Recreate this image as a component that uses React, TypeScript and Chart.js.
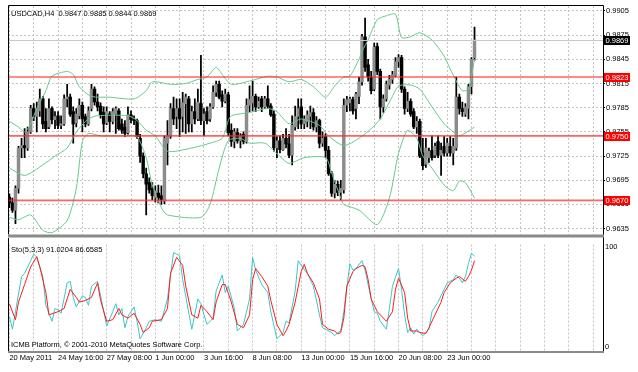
import React, { useEffect, useRef } from "react";
import { Chart, registerables } from "chart.js";

Chart.register(...registerables);

const symbolTitle = "USDCAD,H4  0.9847 0.9885 0.9844 0.9869";
const stochTitle = "Sto(5,3,3) 91.0204 86.6585";
const copyright = "ICMB Platform, \u00a9 2001-2010 MetaQuotes Software Corp.";

const timeLabels = ["20 May 2011", "24 May 16:00", "27 May 08:00", "1 Jun 00:00", "3 Jun 16:00", "8 Jun 08:00", "13 Jun 00:00", "15 Jun 16:00", "20 Jun 08:00", "23 Jun 00:00"];
const priceTicks = [0.9635, 0.9665, 0.9695, 0.9725, 0.9755, 0.9785, 0.9815, 0.9845, 0.9875, 0.9905];
const levels = [0.9823, 0.975, 0.967];
const bidPrice = 0.9869;
const stochTicks = [0, 100];

const openP = [0.9674,0.9667,0.9658,0.9685,0.9735,0.9738,0.9735,0.9755,0.9784,0.9774,
0.9781,0.9796,0.9768,0.9761,0.9784,0.9770,0.9775,0.9763,0.9765,0.9796,
0.9798,0.9780,0.9766,0.9775,0.9788,0.9774,0.9765,0.9784,0.9808,0.9792,
0.9787,0.9779,0.9766,0.9777,0.9768,0.9777,0.9781,0.9765,0.9761,0.9754,
0.9776,0.9771,0.9769,0.9747,0.9725,0.9703,0.9692,0.9685,0.9673,0.9679,
0.9676,0.9669,0.9741,0.9750,0.9784,0.9774,0.9784,0.9774,0.9790,0.9796,
0.9765,0.9780,0.9771,0.9790,0.9769,0.9780,0.9771,0.9786,0.9804,0.9814,
0.9801,0.9793,0.9801,0.9757,0.9743,0.9754,0.9744,0.9752,0.9744,0.9788,
0.9791,0.9799,0.9786,0.9796,0.9786,0.9796,0.9787,0.9777,0.9735,0.9744,
0.9733,0.9747,0.9740,0.9726,0.9761,0.9774,0.9786,0.9765,0.9768,0.9774,
0.9779,0.9761,0.9769,0.9741,0.9749,0.9732,0.9703,0.9679,0.9690,0.9680,
0.9683,0.9788,0.9791,0.9795,0.9784,0.9799,0.9817,0.9873,0.9838,0.9823,
0.9808,0.9861,0.9830,0.9786,0.9796,0.9813,0.9820,0.9825,0.9842,0.9847,
0.9808,0.9784,0.9793,0.9780,0.9761,0.9768,0.9729,0.9715,0.9723,0.9732,
0.9726,0.9743,0.9726,0.9737,0.9729,0.9737,0.9729,0.9735,0.9798,0.9784,
0.9777,0.9784,0.9811,0.9847];

const highP = [0.9678,0.9673,0.9688,0.9737,0.9747,0.9759,0.9761,0.9788,0.9790,0.9792,
0.9808,0.9799,0.9784,0.9796,0.9786,0.9780,0.9780,0.9775,0.9801,0.9814,
0.9802,0.9786,0.9784,0.9796,0.9792,0.9777,0.9786,0.9814,0.9811,0.9802,
0.9791,0.9786,0.9786,0.9780,0.9784,0.9786,0.9784,0.9771,0.9769,0.9786,
0.9781,0.9775,0.9771,0.9752,0.9729,0.9710,0.9698,0.9692,0.9688,0.9689,
0.9688,0.9750,0.9769,0.9790,0.9798,0.9796,0.9796,0.9804,0.9802,0.9799,
0.9787,0.9796,0.9808,0.9850,0.9784,0.9786,0.9790,0.9812,0.9818,0.9818,
0.9806,0.9808,0.9804,0.9765,0.9759,0.9759,0.9753,0.9755,0.9796,0.9812,
0.9818,0.9802,0.9798,0.9799,0.9799,0.9812,0.9790,0.9781,0.9749,0.9750,
0.9752,0.9759,0.9752,0.9775,0.9787,0.9796,0.9796,0.9775,0.9781,0.9787,
0.9784,0.9774,0.9771,0.9755,0.9753,0.9737,0.9706,0.9695,0.9694,0.9695,
0.9796,0.9799,0.9798,0.9798,0.9804,0.9823,0.9876,0.9896,0.9845,0.9830,
0.9865,0.9865,0.9833,0.9801,0.9818,0.9825,0.9830,0.9847,0.9851,0.9850,
0.9811,0.9804,0.9796,0.9784,0.9774,0.9771,0.9747,0.9747,0.9735,0.9750,
0.9741,0.9750,0.9741,0.9749,0.9747,0.9749,0.9747,0.9823,0.9802,0.9792,
0.9790,0.9814,0.9847,0.9885];

const lowP = [0.9661,0.9655,0.9641,0.9679,0.9723,0.9723,0.9732,0.9753,0.9769,0.9755,
0.9774,0.9759,0.9755,0.9759,0.9765,0.9759,0.9759,0.9759,0.9763,0.9786,
0.9774,0.9741,0.9761,0.9771,0.9755,0.9761,0.9763,0.9781,0.9788,0.9781,
0.9772,0.9755,0.9764,0.9755,0.9765,0.9753,0.9757,0.9753,0.9749,0.9752,
0.9766,0.9764,0.9747,0.9717,0.9698,0.9652,0.9679,0.9671,0.9668,0.9667,
0.9665,0.9666,0.9714,0.9747,0.9764,0.9759,0.9749,0.9755,0.9753,0.9755,
0.9755,0.9765,0.9769,0.9764,0.9750,0.9765,0.9768,0.9784,0.9799,0.9796,
0.9786,0.9791,0.9750,0.9737,0.9735,0.9741,0.9735,0.9740,0.9741,0.9780,
0.9781,0.9780,0.9784,0.9780,0.9784,0.9784,0.9774,0.9731,0.9723,0.9729,
0.9732,0.9735,0.9723,0.9714,0.9757,0.9759,0.9759,0.9759,0.9761,0.9759,
0.9757,0.9755,0.9735,0.9737,0.9723,0.9701,0.9675,0.9673,0.9676,0.9671,
0.9679,0.9780,0.9781,0.9777,0.9771,0.9790,0.9813,0.9830,0.9818,0.9802,
0.9806,0.9826,0.9771,0.9779,0.9793,0.9808,0.9815,0.9823,0.9835,0.9804,
0.9777,0.9780,0.9774,0.9759,0.9753,0.9723,0.9708,0.9711,0.9717,0.9720,
0.9723,0.9723,0.9701,0.9725,0.9725,0.9725,0.9714,0.9732,0.9777,0.9774,
0.9774,0.9771,0.9802,0.9844];

const closeP = [0.9667,0.9658,0.9685,0.9735,0.9738,0.9735,0.9755,0.9784,0.9774,0.9784,
0.9796,0.9765,0.9759,0.9784,0.9770,0.9774,0.9763,0.9765,0.9796,0.9798,
0.9777,0.9765,0.9777,0.9788,0.9771,0.9765,0.9781,0.9808,0.9792,0.9786,
0.9776,0.9765,0.9780,0.9768,0.9780,0.9784,0.9759,0.9757,0.9753,0.9776,
0.9770,0.9769,0.9749,0.9725,0.9703,0.9690,0.9683,0.9676,0.9682,0.9673,
0.9671,0.9747,0.9750,0.9784,0.9771,0.9784,0.9771,0.9791,0.9798,0.9765,
0.9780,0.9771,0.9792,0.9769,0.9777,0.9769,0.9786,0.9804,0.9814,0.9798,
0.9793,0.9802,0.9754,0.9743,0.9755,0.9744,0.9749,0.9743,0.9788,0.9795,
0.9799,0.9786,0.9793,0.9786,0.9796,0.9787,0.9776,0.9735,0.9744,0.9733,
0.9747,0.9740,0.9726,0.9763,0.9774,0.9784,0.9765,0.9771,0.9776,0.9779,
0.9761,0.9769,0.9741,0.9747,0.9732,0.9703,0.9679,0.9690,0.9680,0.9685,
0.9788,0.9795,0.9796,0.9781,0.9802,0.9817,0.9873,0.9835,0.9823,0.9806,
0.9860,0.9830,0.9786,0.9796,0.9814,0.9820,0.9826,0.9842,0.9847,0.9808,
0.9784,0.9793,0.9777,0.9761,0.9768,0.9725,0.9713,0.9735,0.9731,0.9723,
0.9737,0.9726,0.9732,0.9729,0.9741,0.9729,0.9737,0.9798,0.9784,0.9780,
0.9786,0.9811,0.9845,0.9869];

// Bollinger bands, read at sample bars
const upperBars = [0,3,5,7,9,12,14,19,21,23,27,33,41,45,47,53,58,62,65,68,70,73,79,85,88,92,96,100,104,107,110,112,115,116,118,121,124,127,129,132,135,139,143,145,147,149,151,153];
const upperVals = [0.9768,0.9761,0.9755,0.9765,0.9784,0.9806,0.9824,0.9830,0.9826,0.9811,0.9799,0.9798,0.9796,0.9806,0.9817,0.9814,0.9815,0.9820,0.9823,0.9835,0.9826,0.9814,0.9818,0.9824,0.9823,0.9817,0.9820,0.9811,0.9798,0.9812,0.9823,0.9824,0.9845,0.9855,0.9869,0.9894,0.9899,0.9901,0.9872,0.9873,0.9878,0.9869,0.9849,0.9833,0.9818,0.9806,0.9808,0.9845];
const middleBars = [0,5,11,15,19,22,26,29,39,42,45,48,52,60,66,70,72,73,79,85,88,92,96,102,105,110,115,119,122,126,128,132,135,139,143,146,148,153];
const middleVals = [0.9710,0.9701,0.9714,0.9725,0.9735,0.9755,0.9771,0.9775,0.9775,0.9769,0.9757,0.9750,0.9731,0.9735,0.9741,0.9747,0.9769,0.9775,0.9779,0.9784,0.9780,0.9765,0.9771,0.9763,0.9750,0.9738,0.9747,0.9759,0.9771,0.9799,0.9812,0.9813,0.9808,0.9786,0.9765,0.9755,0.9750,0.9761];
const lowerBars = [0,3,7,11,14,19,22,24,26,30,39,42,45,47,50,52,63,66,69,72,76,79,84,88,92,97,104,106,109,110,115,121,125,128,131,134,136,139,143,146,148,150,153];
const lowerVals = [0.9649,0.9646,0.9652,0.9633,0.9630,0.9645,0.9685,0.9743,0.9753,0.9750,0.9750,0.9749,0.9723,0.9689,0.9661,0.9652,0.9649,0.9665,0.9710,0.9744,0.9747,0.9741,0.9741,0.9728,0.9716,0.9723,0.9723,0.9704,0.9673,0.9665,0.9658,0.9640,0.9673,0.9728,0.9757,0.9747,0.9725,0.9710,0.9689,0.9682,0.9694,0.9692,0.9673];

// Stochastic(5,3,3)
const kBars = [0,1,2,4,5,7,8,9,11,12,14,15,16,17,19,20,21,22,24,25,26,27,29,30,32,34,35,36,37,38,39,41,42,43,45,46,48,50,52,54,56,57,60,62,63,64,65,67,68,70,71,72,74,75,77,79,80,81,83,85,86,88,90,91,92,94,95,96,98,100,102,103,104,106,107,108,109,110,112,113,114,116,117,119,120,121,122,124,125,126,128,129,130,131,132,133,134,135,136,138,139,141,142,144,146,147,148,149,150,151,152,153];
const kVals = [30.8,18,35.6,70.8,74,86.8,93.3,90,70.8,42,26,38.8,37.2,34,64.4,66,50,40.4,51.6,50,42,61.2,66,51.6,21.2,35.6,43.6,32.4,38.8,19.5,30.8,40.4,26,8.4,19.5,26,27.6,26,48.4,94.9,91.6,67.6,18,48.4,43.6,32.4,22.8,29.1,56.4,72.4,54.8,61.2,38.8,16.3,22.8,48.4,90,77.2,62.8,54.8,35.6,8.4,14.7,26,24.3,56.4,86.8,82,74,61.2,32.4,19.5,18,14.7,11.5,14.7,16.3,35.6,83.7,77.2,78.8,86.8,77.2,48.4,35.6,34,26,18,38.8,61.2,78.8,58,32.4,14.7,19.5,13.2,18,14.7,11.5,18,35.6,45.2,51.6,64.4,67.6,72.4,69.2,64.4,70.8,83.7,94.2,91.02];
const dBars = [0,2,3,5,7,9,10,12,13,16,18,20,22,23,25,27,29,30,32,34,36,37,39,41,43,44,46,47,50,52,53,55,57,58,60,62,63,65,67,68,70,71,73,75,77,79,80,81,83,85,86,88,90,91,92,94,96,97,98,100,102,103,105,107,108,109,110,111,113,114,116,117,118,119,121,122,124,126,127,128,130,131,132,134,135,137,138,140,142,143,145,147,148,150,151,152,153];
const dVals = [43.6,27.6,45.2,62.8,80.5,90.7,80.5,54.8,32.4,35.6,38.8,58,50,45.2,46.8,50,64.4,46.8,26,27.6,38.8,32.4,29.1,34,22.8,14.7,19.5,26,27.6,38.8,74,90,82,61.2,32.4,29.1,42,35.6,27.6,45.2,62.8,62.8,45.2,22.8,19.5,32.4,67.6,78.8,70.8,61.2,46.8,22.8,11.5,16.3,22.8,45.2,76,83,74,64.4,48.4,22.8,18,16.3,13.2,14.7,29.1,61.2,75.7,78.8,82,80.5,67.6,48.4,35.6,32.4,26,35.6,58,69.2,54.8,29.1,16.3,16.3,14.7,13.8,19.5,32.4,45.2,54.8,64.4,69.2,70.8,66,70.8,77.2,86.66];

const FONT = '"Liberation Sans", Arial, sans-serif';
const FS = 7.5;
const X_MIN = -0.46;
const X_MAX = 195.26;
const GRID_STEP = 8;
const LABEL_STEP = 16;
const BAND_COLOR = "#66c98e";
const GRID_COLOR = "#c4c4c4";

const pts = (xs: number[], ys: number[]) => xs.map((x, i) => ({ x, y: ys[i] }));

function xGridTicks(axis: any) {
  const t: any[] = [];
  for (let v = 0; v <= X_MAX; v += GRID_STEP) t.push({ value: v });
  axis.ticks = t;
}

const mainDecor = {
  id: "mainDecor",
  afterDatasetsDraw(chart: any) {
    const { ctx, chartArea: a, scales } = chart;
    const ys = scales.y;
    ctx.save();
    ctx.beginPath();
    ctx.rect(a.left, a.top, a.right - a.left, a.bottom - a.top);
    ctx.clip();
    const by = Math.round(ys.getPixelForValue(bidPrice)) + 0.5;
    ctx.strokeStyle = "#c8c8c8";
    ctx.lineWidth = 1;
    ctx.beginPath();
    ctx.moveTo(a.left, by);
    ctx.lineTo(a.right, by);
    ctx.stroke();
    ctx.strokeStyle = "rgba(255,40,40,0.72)";
    ctx.lineWidth = 1.6;
    levels.forEach((l) => {
      const ly = ys.getPixelForValue(l);
      ctx.beginPath();
      ctx.moveTo(a.left, ly);
      ctx.lineTo(a.right, ly);
      ctx.stroke();
    });
    ctx.restore();
  },
  afterDraw(chart: any) {
    const { ctx, chartArea: a, scales } = chart;
    const ys = scales.y;
    ctx.save();
    ctx.strokeStyle = "#000";
    ctx.lineWidth = 1;
    ctx.beginPath();
    ctx.moveTo(a.left + 0.5, a.bottom);
    ctx.lineTo(a.left + 0.5, a.top - 0.5);
    ctx.lineTo(a.right + 0.5, a.top - 0.5);
    ctx.lineTo(a.right + 0.5, chart.height);
    ctx.stroke();
    ctx.fillStyle = "#8a8a8a";
    ctx.fillRect(a.left, a.bottom, a.right - a.left + 1, 3);
    ctx.fillStyle = "#000";
    ctx.font = `${FS}px ${FONT}`;
    ctx.textBaseline = "middle";
    ctx.textAlign = "left";
    ctx.fillText(symbolTitle, a.left + 3, a.top + 7.5);
    const box = (v: number, bg: string) => {
      const y = Math.round(ys.getPixelForValue(v));
      ctx.fillStyle = bg;
      ctx.fillRect(a.right + 1, y - 4, 26, 9);
      ctx.fillStyle = "#fff";
      ctx.fillText(v.toFixed(4), a.right + 2.5, y + 0.5);
    };
    box(bidPrice, "#000");
    levels.forEach((l) => box(l, "#ff0000"));
    ctx.restore();
  },
};

const stoDecor = {
  id: "stoDecor",
  afterDraw(chart: any) {
    const { ctx, chartArea: a } = chart;
    ctx.save();
    ctx.strokeStyle = "#000";
    ctx.lineWidth = 1;
    ctx.beginPath();
    ctx.moveTo(a.left + 0.5, 0);
    ctx.lineTo(a.left + 0.5, a.bottom);
    ctx.moveTo(a.right + 0.5, 0);
    ctx.lineTo(a.right + 0.5, a.bottom + 2);
    ctx.stroke();
    ctx.fillStyle = "#8a8a8a";
    ctx.fillRect(a.left, a.bottom, a.right - a.left + 1, 2);
    ctx.fillStyle = "#000";
    ctx.font = `${FS}px ${FONT}`;
    ctx.textBaseline = "middle";
    ctx.textAlign = "left";
    ctx.fillText(stochTitle, a.left + 3, a.top + 5);
    ctx.fillText(copyright, a.left + 3, a.bottom - 6);
    ctx.restore();
  },
};

function mainConfig(): any {
  const idx = openP.map((_, i) => i);
  const wick = idx.map((i) => ({ x: i, y: [lowP[i], highP[i]] }));
  const body = idx.map((i) => ({ x: i, y: [openP[i], closeP[i]] }));
  const bodyColors = idx.map((i) => (closeP[i] >= openP[i] ? "#8c8c8c" : "#000000"));
  const line = (data: any[], order: number) => ({
    type: "line",
    data,
    borderColor: BAND_COLOR,
    borderWidth: 1,
    pointRadius: 0,
    tension: 0.25,
    order,
  });
  return {
    type: "bar",
    data: {
      datasets: [
        { type: "bar", data: wick, backgroundColor: "#000", barThickness: 1.1, grouped: false, order: 10 },
        { type: "bar", data: body, backgroundColor: bodyColors, borderColor: "#222", borderWidth: 0, barThickness: 2.8, grouped: false, minBarLength: 1, order: 9 },
        line(pts(upperBars, upperVals), 3),
        line(pts(middleBars, middleVals), 2),
        line(pts(lowerBars, lowerVals), 1),
      ],
    },
    options: {
      responsive: false,
      animation: false,
      devicePixelRatio: 1,
      events: [],
      layout: { padding: { left: 8, top: 6, right: 0, bottom: 3 } },
      plugins: { legend: { display: false }, tooltip: { enabled: false } },
      scales: {
        x: {
          type: "linear",
          min: X_MIN,
          max: X_MAX,
          offset: false,
          afterBuildTicks: xGridTicks,
          afterFit: (s: any) => { s.height = 0; },
          ticks: { display: false },
          grid: { color: GRID_COLOR, drawTicks: false, offset: false },
          border: { display: false, dash: [2, 2] },
        },
        y: {
          type: "linear",
          position: "right",
          min: 0.96277,
          max: 0.99111,
          beginAtZero: false,
          afterBuildTicks: (axis: any) => { axis.ticks = priceTicks.map((v) => ({ value: v })); },
          afterFit: (s: any) => { s.width = 35; },
          ticks: {
            color: "#000",
            font: { family: FONT, size: FS },
            padding: 1,
            callback: (v: any) => Number(v).toFixed(4),
          },
          grid: { color: GRID_COLOR, tickColor: "#000", tickLength: 2 },
          border: { display: false, dash: [2, 2] },
        },
      },
    },
    plugins: [mainDecor],
  };
}

function stoConfig(): any {
  return {
    type: "line",
    data: {
      datasets: [
        { data: pts(kBars, kVals), borderColor: "#3cc6c6", borderWidth: 1, pointRadius: 0, tension: 0, order: 2 },
        { data: pts(dBars, dVals), borderColor: "#ff1a1a", borderWidth: 1, pointRadius: 0, tension: 0, order: 1 },
      ],
    },
    options: {
      responsive: false,
      animation: false,
      devicePixelRatio: 1,
      events: [],
      layout: { padding: { left: 8, top: 2, right: 0, bottom: 0 } },
      plugins: { legend: { display: false }, tooltip: { enabled: false } },
      scales: {
        x: {
          type: "linear",
          min: X_MIN,
          max: X_MAX,
          offset: false,
          afterBuildTicks: xGridTicks,
          afterFit: (s: any) => { s.height = 21; },
          ticks: {
            color: "#000",
            font: { family: FONT, size: FS },
            align: "start",
            maxRotation: 0,
            autoSkip: false,
            padding: 2,
            callback: (v: any) => {
              const k = Number(v) / LABEL_STEP;
              return Number.isInteger(k) && k < timeLabels.length ? timeLabels[k] : "";
            },
          },
          grid: { color: GRID_COLOR, drawTicks: false, offset: false },
          border: { display: false, dash: [2, 2] },
        },
        y: {
          type: "linear",
          position: "right",
          min: -3.8,
          max: 102.9,
          afterBuildTicks: (axis: any) => { axis.ticks = stochTicks.map((v) => ({ value: v })); },
          afterFit: (s: any) => { s.width = 35; },
          ticks: { color: "#000", font: { family: FONT, size: FS }, padding: 2 },
          grid: { display: false, drawTicks: false },
          border: { display: false },
        },
      },
    },
    plugins: [stoDecor],
  };
}

export default function App() {
  const mainRef = useRef<HTMLCanvasElement>(null);
  const stoRef = useRef<HTMLCanvasElement>(null);
  useEffect(() => {
    const c1 = new Chart(mainRef.current as HTMLCanvasElement, mainConfig());
    const c2 = new Chart(stoRef.current as HTMLCanvasElement, stoConfig());
    return () => {
      c1.destroy();
      c2.destroy();
    };
  }, []);
  return (
    <div style={{ position: "fixed", left: 0, top: 0, width: 638, height: 372, background: "#fff", overflow: "hidden" }}>
      <canvas ref={mainRef} width={638} height={240} style={{ position: "absolute", left: 0, top: 0, width: 638, height: 240 }} />
      <canvas ref={stoRef} width={638} height={134} style={{ position: "absolute", left: 0, top: 238, width: 638, height: 134 }} />
    </div>
  );
}
